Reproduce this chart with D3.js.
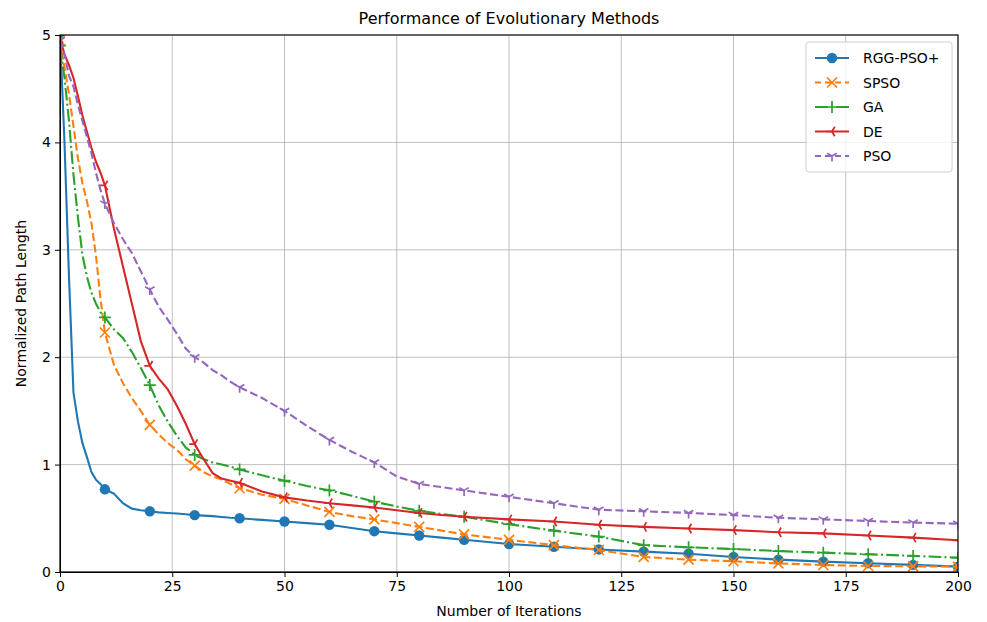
<!DOCTYPE html>
<html lang="en">

<head>
  <meta charset="UTF-8">
  <title>Performance of Evolutionary Methods</title>
  <script src="https://d3js.org/d3.v7.min.js"></script>
  <style>
    body {
      margin: 0;
      background: white;
    }

    text {
      font-family: "DejaVu Sans", sans-serif;
      fill: #000;
    }

    .grid line {
      stroke: #b0b0b0;
      stroke-opacity: 0.8;
      stroke-width: 1px;
    }

    .axis path,
    .axis line {
      stroke: #000;
    }

    .axis text {
      font-size: 14px;
    }
  </style>
</head>

<body>
  <div id="chart"></div>

  <script>
    const iterations = [0, 1, 2, 3, 4, 5, 6, 7, 8, 9, 10, 12, 14, 16, 18, 20, 22, 24, 26, 28, 30, 32, 34, 36, 38, 40,
      45, 50, 55, 60, 65, 70, 75, 80, 85, 90, 100, 110, 120, 130, 140, 150, 160, 170, 180, 190, 200];

    const rggPso = [5.0, 4.0, 2.75, 1.67, 1.4, 1.2, 1.07, 0.93, 0.86, 0.82, 0.77, 0.73, 0.64, 0.59, 0.575, 0.565, 0.555, 0.55, 0.545, 0.538, 0.53, 0.525, 0.52, 0.512, 0.505, 0.5,
      0.485, 0.47, 0.455, 0.44, 0.41, 0.38, 0.36, 0.34, 0.32, 0.3, 0.26, 0.235, 0.21, 0.19, 0.17, 0.14, 0.115, 0.097, 0.082, 0.066, 0.05];
    const spso = [4.95, 4.7, 4.45, 4.15, 3.85, 3.62, 3.45, 3.25, 2.95, 2.55, 2.23, 1.93, 1.76, 1.62, 1.5, 1.37, 1.28, 1.2, 1.14, 1.05, 0.99, 0.93, 0.89, 0.86, 0.82, 0.78,
      0.72, 0.68, 0.62, 0.56, 0.52, 0.49, 0.455, 0.42, 0.385, 0.35, 0.3, 0.25, 0.205, 0.14, 0.115, 0.1, 0.08, 0.065, 0.056, 0.053, 0.05];
    const ga = [4.9, 4.6, 4.2, 3.7, 3.3, 2.95, 2.75, 2.6, 2.5, 2.42, 2.37, 2.26, 2.18, 2.05, 1.9, 1.74, 1.55, 1.4, 1.27, 1.16, 1.09, 1.05, 1.02, 1.0, 0.98, 0.955,
      0.9, 0.85, 0.8, 0.76, 0.71, 0.655, 0.61, 0.57, 0.54, 0.515, 0.445, 0.385, 0.33, 0.25, 0.23, 0.214, 0.195, 0.18, 0.165, 0.15, 0.133];
    const de = [4.97, 4.82, 4.72, 4.6, 4.43, 4.25, 4.1, 3.95, 3.82, 3.72, 3.6, 3.2, 2.85, 2.5, 2.15, 1.92, 1.8, 1.7, 1.55, 1.38, 1.19, 1.05, 0.92, 0.87, 0.85, 0.83,
      0.75, 0.695, 0.665, 0.64, 0.62, 0.6, 0.575, 0.55, 0.53, 0.515, 0.49, 0.47, 0.44, 0.42, 0.405, 0.39, 0.37, 0.36, 0.34, 0.32, 0.295];
    const pso = [4.95, 4.82, 4.62, 4.52, 4.35, 4.2, 4.05, 3.9, 3.72, 3.56, 3.43, 3.25, 3.1, 2.97, 2.8, 2.63, 2.47, 2.35, 2.22, 2.08, 2.0, 1.95, 1.88, 1.83, 1.77, 1.72,
      1.62, 1.5, 1.36, 1.23, 1.12, 1.02, 0.89, 0.82, 0.79, 0.76, 0.7, 0.64, 0.58, 0.565, 0.55, 0.53, 0.505, 0.49, 0.475, 0.46, 0.45];

    const seriesNames = ["RGG-PSO+", "SPSO", "GA", "DE", "PSO"];
    const seriesValues = [rggPso, spso, ga, de, pso];
    const seriesColors = ["#1f77b4", "#ff7f0e", "#2ca02c", "#d62728", "#9467bd"];
    const seriesDash = ["none", "8,3.5", "12.8,3.2,2,3.2", "none", "8,3.5"];
    const seriesMarker = ["circle", "x", "plus", "triLeft", "triDown"];

    const xTicks = [0, 25, 50, 75, 100, 125, 150, 175, 200];
    const yTicks = [0, 1, 2, 3, 4, 5];

    const margin = { top: 35, right: 29, bottom: 50, left: 60 };
    const width = 987 - margin.left - margin.right;
    const height = 622 - margin.top - margin.bottom;

    const root = d3.select("#chart")
      .append("svg")
      .attr("width", 987)
      .attr("height", 622);

    const svg = root.append("g")
      .attr("transform", `translate(${margin.left},${margin.top})`);

    const x = d3.scaleLinear().domain([0, 200]).range([0, width]);
    const y = d3.scaleLinear().domain([0, 5]).range([height, 0]);

    // grid
    svg.append("g")
      .attr("class", "grid")
      .selectAll("line")
      .data(xTicks)
      .join("line")
      .attr("x1", d => x(d)).attr("x2", d => x(d))
      .attr("y1", 0).attr("y2", height);

    svg.append("g")
      .attr("class", "grid")
      .selectAll("line")
      .data(yTicks)
      .join("line")
      .attr("x1", 0).attr("x2", width)
      .attr("y1", d => y(d)).attr("y2", d => y(d));

    // clip to the axes box, as matplotlib does
    svg.append("clipPath")
      .attr("id", "plot-clip")
      .append("rect")
      .attr("x", 0).attr("y", 0)
      .attr("width", width).attr("height", height);

    const line = d3.line()
      .x(d => x(d[0]))
      .y(d => y(d[1]));

    function markerPath(type, s) {
      const r = s;
      if (type === "x") return `M${-r},${-r}L${r},${r}M${-r},${r}L${r},${-r}`;
      if (type === "plus") return `M${-r * 1.2},0L${r * 1.2},0M0,${-r * 1.2}L0,${r * 1.2}`;
      if (type === "triLeft") {
        const a = r * 1.1;
        return `M0,0L${-a},0M0,0L${a * 0.5},${-a * 0.866}M0,0L${a * 0.5},${a * 0.866}`;
      }
      if (type === "triDown") {
        const a = r * 1.1;
        return `M0,0L0,${a}M0,0L${-a * 0.866},${-a * 0.5}M0,0L${a * 0.866},${-a * 0.5}`;
      }
      return "";
    }

    const plot = svg.append("g").attr("clip-path", "url(#plot-clip)");

    seriesValues.forEach((vals, i) => {
      const pts = iterations.map((it, j) => [it, vals[j]]);
      const g = plot.append("g");

      g.append("path")
        .datum(pts)
        .attr("fill", "none")
        .attr("stroke", seriesColors[i])
        .attr("stroke-width", 2.1)
        .attr("stroke-dasharray", seriesDash[i])
        .attr("d", line);

      const marks = pts.filter(p => p[0] % 10 === 0);
      if (seriesMarker[i] === "circle") {
        g.selectAll("circle")
          .data(marks)
          .join("circle")
          .attr("cx", d => x(d[0]))
          .attr("cy", d => y(d[1]))
          .attr("r", 5.2)
          .attr("fill", seriesColors[i]);
      } else {
        g.selectAll("path.mk")
          .data(marks)
          .join("path")
          .attr("class", "mk")
          .attr("transform", d => `translate(${x(d[0])},${y(d[1])})`)
          .attr("d", markerPath(seriesMarker[i], 5))
          .attr("fill", "none")
          .attr("stroke", seriesColors[i])
          .attr("stroke-width", 1.7);
      }
    });

    // axes
    svg.append("g")
      .attr("class", "axis")
      .attr("transform", `translate(0,${height})`)
      .call(d3.axisBottom(x).tickValues(xTicks).tickSize(5).tickPadding(4).tickSizeOuter(0));

    svg.append("g")
      .attr("class", "axis")
      .call(d3.axisLeft(y).tickValues(yTicks).tickFormat(d3.format("d")).tickSize(5).tickPadding(4).tickSizeOuter(0));

    // frame
    svg.append("rect")
      .attr("x", 0).attr("y", 0)
      .attr("width", width).attr("height", height)
      .attr("fill", "none")
      .attr("stroke", "#000")
      .attr("stroke-width", 1.1);

    // title & labels
    root.append("text")
      .attr("x", margin.left + width / 2)
      .attr("y", 24)
      .attr("text-anchor", "middle")
      .attr("font-size", "16px")
      .text("Performance of Evolutionary Methods");

    root.append("text")
      .attr("x", margin.left + width / 2)
      .attr("y", 616)
      .attr("text-anchor", "middle")
      .attr("font-size", "14px")
      .text("Number of Iterations");

    root.append("text")
      .attr("transform", `translate(26,${margin.top + height / 2}) rotate(-90)`)
      .attr("text-anchor", "middle")
      .attr("font-size", "14px")
      .text("Normalized Path Length");

    // legend
    const legend = svg.append("g")
      .attr("transform", `translate(${width - 152},7)`);

    legend.append("rect")
      .attr("width", 146)
      .attr("height", 130)
      .attr("rx", 3)
      .attr("fill", "white")
      .attr("fill-opacity", 0.8)
      .attr("stroke", "#d0d0d0");

    seriesNames.forEach((name, i) => {
      const row = legend.append("g")
        .attr("transform", `translate(0,${16 + i * 24.5})`);
      row.append("line")
        .attr("x1", 9).attr("x2", 43)
        .attr("stroke", seriesColors[i])
        .attr("stroke-width", 2.1)
        .attr("stroke-dasharray", seriesDash[i] === "none" ? "none" : (i === 2 ? "12.8,3.2,2,3.2" : "6,4"));
      if (seriesMarker[i] === "circle") {
        row.append("circle").attr("cx", 26).attr("r", 5.2).attr("fill", seriesColors[i]);
      } else {
        row.append("path")
          .attr("transform", "translate(26,0)")
          .attr("d", markerPath(seriesMarker[i], 5))
          .attr("fill", "none")
          .attr("stroke", seriesColors[i])
          .attr("stroke-width", 1.7);
      }
      row.append("text")
        .attr("x", 57)
        .attr("y", 5)
        .attr("font-size", "14px")
        .text(name);
    });
  </script>
</body>

</html>
